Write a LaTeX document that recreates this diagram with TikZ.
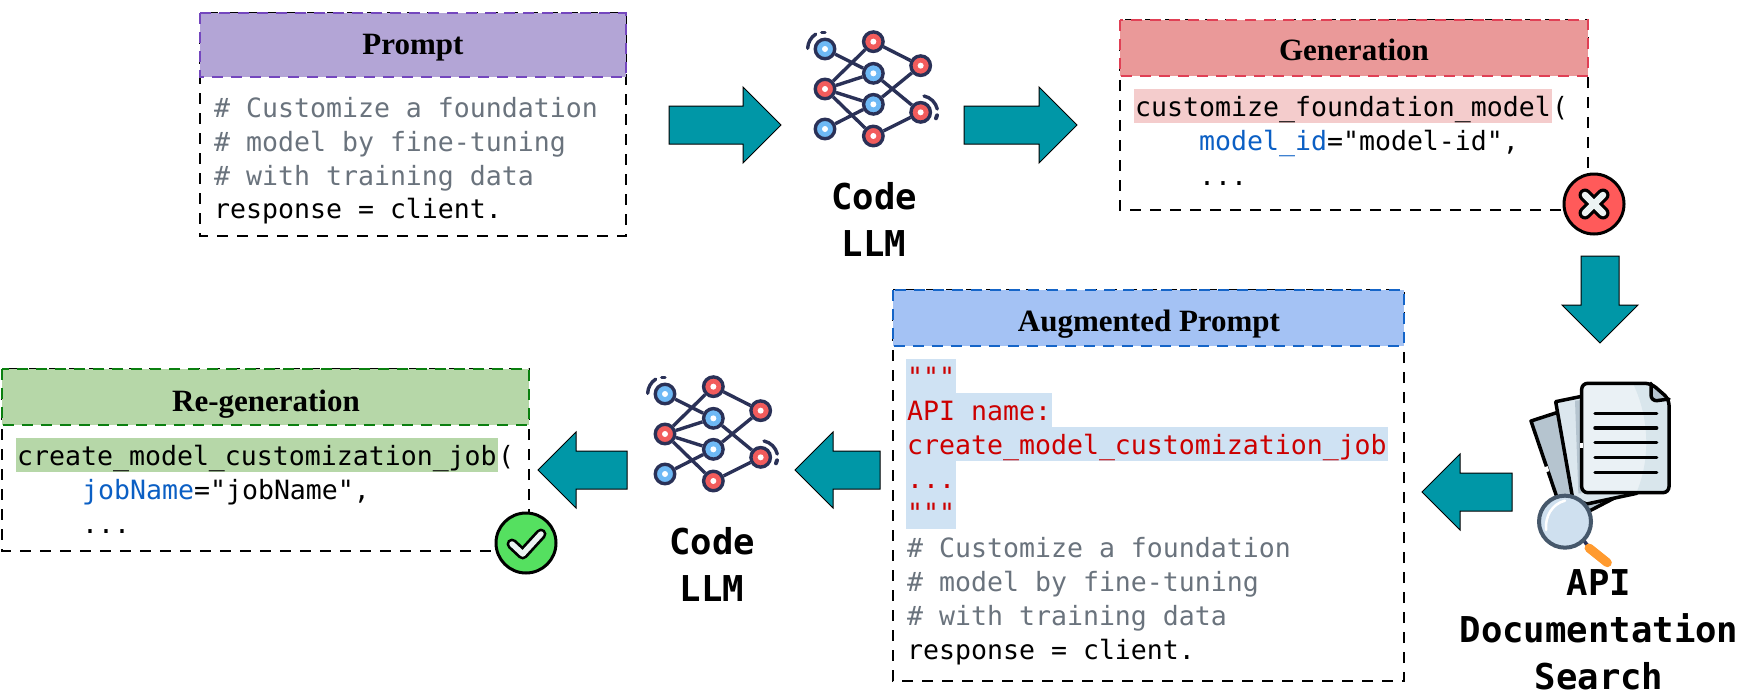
\documentclass[tikz,border=0pt]{standalone}
\usepackage{fontspec}
\newfontfamily\codefont{DejaVu Sans Mono}
\newfontfamily\titlefont{Liberation Serif}[BoldFont={Liberation Serif Bold}]
\usetikzlibrary{shapes.arrows}
\definecolor{arrowteal}{RGB}{0, 151, 167}
\definecolor{netnavy}{RGB}{42, 49, 87}
\definecolor{netblue}{RGB}{110, 185, 245}
\definecolor{netred}{RGB}{242, 92, 92}
\definecolor{commentgray}{RGB}{106, 115, 125}
\definecolor{argblue}{RGB}{11, 95, 196}
\definecolor{apired}{RGB}{204, 0, 0}
\definecolor{purplehead}{RGB}{179, 165, 214}
\definecolor{purpleline}{RGB}{116, 71, 190}
\definecolor{redhead}{RGB}{234, 153, 153}
\definecolor{redline}{RGB}{224, 64, 85}
\definecolor{redmark}{RGB}{244, 204, 204}
\definecolor{bluehead}{RGB}{164, 194, 244}
\definecolor{blueline}{RGB}{21, 101, 200}
\definecolor{bluemark}{RGB}{207, 226, 243}
\definecolor{greenhead}{RGB}{182, 215, 168}
\definecolor{greenline}{RGB}{11, 128, 16}
\definecolor{pagefront}{RGB}{234, 241, 245}
\definecolor{pageshade}{RGB}{217, 230, 236}
\definecolor{pagemid}{RGB}{220, 231, 238}
\definecolor{pageback}{RGB}{181, 196, 207}
\definecolor{lensblue}{RGB}{207, 224, 239}
\definecolor{lensrim}{RGB}{70, 88, 107}
\definecolor{handleorange}{RGB}{255, 154, 47}
\definecolor{badgered}{RGB}{255, 90, 90}
\definecolor{badgegreen}{RGB}{85, 224, 96}
\definecolor{marklight}{RGB}{236, 243, 243}

\begin{document}
\begin{tikzpicture}[
    x = 1pt, y = -1pt,
    d0/.style = {line width = 2, dash pattern = on 11 off 9},
    headbox/.style = {line width = 2.6, dash pattern = on 11 off 8},
    codeline/.style = {anchor = base west, inner sep = 0, font = \codefont\fontsize{26.55}{34}\selectfont},
    codemark/.style = {codeline, inner xsep = 1, text height = 27, text depth = 7},
    headtitle/.style = {anchor = base, inner sep = 0, font = \titlefont\bfseries\fontsize{31}{34}\selectfont},
    tagtext/.style = {align = center, inner sep = 0, font = \codefont\bfseries\fontsize{35.6}{47}\selectfont},
    blockarrow/.style = {single arrow, draw = black, fill = arrowteal, line width = 1, inner sep = 0, outer sep = 0,
        anchor = tip, minimum width = 75, single arrow head extend = 19},
    flatarrow/.style = {blockarrow, text height = 18.5, text depth = 18.5, text width = 0},
    tallarrow/.style = {blockarrow, text height = 0, text depth = 0, text width = 37},
    netedge/.style = {line width = 3.4, netnavy},
    bluenode/.style = {circle, draw = netnavy, fill = netblue, line width = 3.4, minimum size = 19.5, inner sep = 0},
    rednode/.style = {bluenode, fill = netred},
    pageedge/.style = {line width = 3.5, line join = round, line cap = round}
]
\useasboundingbox (0, 0) rectangle (1743, 699);

% prompt
\draw[d0] (200, 13) rectangle (626, 236);
\draw[headbox, draw = purpleline, fill = purplehead] (200, 13) rectangle (626, 77);
\node[headtitle] (promptTitle) at (413, 54) {Prompt};
\node[codeline, text = commentgray] (promptA) at (214, 117) {\# Customize a foundation};
\node[codeline, text = commentgray] (promptB) at (214, 151) {\# model by fine-tuning};
\node[codeline, text = commentgray] (promptC) at (214, 185) {\# with training data};
\node[codeline] (promptD) at (214, 218) {response = client.};

% generation
\draw[d0] (1120, 20) rectangle (1588, 210);
\draw[headbox, draw = redline, fill = redhead] (1120, 20) rectangle (1588, 76);
\node[headtitle] (genTitle) at (1354, 60) {Generation};
\node[codemark, fill = redmark] (genA) at (1134, 116) {customize\_foundation\_model};
\node[codeline] (genParen) at (genA.base east) {(};
\node[codeline] (genB) at (1199, 150) {{\color{argblue}model\_id}="model-id",};
\node[codeline] (genC) at (1199, 185) {...};

% augmented prompt
\draw[d0] (893, 290) rectangle (1404, 681);
\draw[headbox, draw = blueline, fill = bluehead] (893, 290) rectangle (1404, 346);
\node[headtitle] (augTitle) at (1149, 331) {Augmented Prompt};
\node[codemark, fill = bluemark, text = apired] (augA) at (906, 386) {"""};
\node[codemark, fill = bluemark, text = apired] (augB) at (906, 420) {API name:};
\node[codemark, fill = bluemark, text = apired] (augC) at (906, 454) {create\_model\_customization\_job};
\node[codemark, fill = bluemark, text = apired] (augD) at (906, 488) {...};
\node[codemark, fill = bluemark, text = apired] (augE) at (906, 522) {"""};
\node[codeline, text = commentgray] (augF) at (907, 557) {\# Customize a foundation};
\node[codeline, text = commentgray] (augG) at (907, 591) {\# model by fine-tuning};
\node[codeline, text = commentgray] (augH) at (907, 625) {\# with training data};
\node[codeline] (augI) at (907, 659) {response = client.};

% re-generation
\draw[d0] (2, 369) rectangle (529, 551);
\draw[headbox, draw = greenline, fill = greenhead] (2, 369) rectangle (529, 425);
\node[headtitle] (regenTitle) at (266, 411) {Re-generation};
\node[codemark, fill = greenhead] (regenA) at (16, 465) {create\_model\_customization\_job};
\node[codeline] (regenParen) at (regenA.base east) {(};
\node[codeline] (regenB) at (82, 499) {{\color{argblue}jobName}="jobName",};
\node[codeline] (regenC) at (82, 533) {...};

% block arrows
\node[flatarrow, minimum height = 112] (arrowA) at (781, 125) {};
\node[flatarrow, minimum height = 113] (arrowB) at (1077, 125) {};
\node[tallarrow, minimum height = 87, shape border rotate = 270] (arrowC) at (1600, 343) {};
\node[flatarrow, minimum height = 90, shape border rotate = 180] (arrowD) at (1422, 492) {};
\node[flatarrow, minimum height = 85, shape border rotate = 180] (arrowE) at (795, 470) {};
\node[flatarrow, minimum height = 89, shape border rotate = 180] (arrowF) at (538, 470) {};

% code llm
\foreach \ox/\oy/\id in {790/20/A, 630/365/B} {
\begin{scope}[shift = {(\ox, \oy)}, scale = 1/3]
\foreach \n/\px/\py/\kind in {a1/105/87/bluenode, a2/105/207/rednode, a3/105/327/bluenode,
    b1/250/65/rednode, b2/250/160/bluenode, b3/250/253/bluenode, b4/250/348/rednode,
    c1/392/137/rednode, c2/392/277/rednode} {
    \node[\kind] (\n\id) at (\px, \py) {};
    \fill[white] (\px, \py) circle (9);
}
\foreach \na/\nb in {a1/b2, a2/b1, a2/b2, a2/b3, a2/b4, a3/b3, b1/c1, b2/c2, b3/c1, b4/c2} {
    \draw[netedge] (\na\id) -- (\nb\id);
}
\draw[netedge, line cap = round] (53, 85) arc (182:237:53);
\draw[netedge, line cap = round] (95, 37) -- (105, 37);
\draw[netedge, line cap = round] (402, 228) arc (282:347:52);
\draw[netedge, line cap = round, line width = 4] (441, 286) -- (438, 295);
\end{scope}
}
\node[tagtext] (llmA) at (874, 219) {Code\\LLM};
\node[tagtext] (llmB) at (712, 564) {Code\\LLM};

% documents and magnifier
\begin{scope}[shift = {(1490, 360)}, scale = 1/3]
\draw[pageedge, fill = pageback] (123, 183) -- (200, 158) -- (400, 400) -- (300, 452) -- (200, 410) -- cycle;
\draw[pageedge, fill = pagemid] (197, 125) -- (280, 108) -- (440, 400) -- (290, 432) -- (248, 415) -- cycle;
\fill[pageback] (255, 122) -- (275, 120) -- (275, 400) -- (265, 400) -- cycle;
\fill[pagefront] (275, 70) -- (483, 70) -- (537, 117) -- (537, 398) -- (275, 398) -- cycle;
\fill[pageshade] (430, 72) .. controls (480, 180) and (480, 300) .. (440, 396) -- (535, 396) -- (535, 118) -- (483, 72) -- cycle;
\fill[pageback] (483, 75) -- (537, 117) -- (495, 122) -- (483, 110) -- cycle;
\draw[pageedge, rounded corners = 6] (275, 70) -- (483, 70) -- (537, 117) -- (537, 398) -- (275, 398) -- cycle;
\draw[pageedge] (483, 70) -- (483, 105) .. controls (483, 115) and (490, 122) .. (500, 122) -- (537, 117);
\draw[white, line width = 3.5] (275, 248) -- (275, 265);
\draw[white, line width = 3.5] (168, 320) -- (173, 335);
\foreach \ly in {160, 204, 248, 292, 337} {
    \draw[pageedge] (315, \ly) -- (500, \ly);
}
\draw[line width = 3.5, netnavy] (280, 540) -- (297, 562);
\draw[line width = 9, handleorange, line cap = round] (297, 564) -- (352, 608);
\draw[line width = 4, draw = lensrim, fill = lensblue] (225, 485) circle (78);
\draw[line width = 2.5, white, line cap = round] (168, 510) .. controls (165, 470) and (185, 432) .. (225, 422);
\end{scope}
\node[tagtext] (docTag) at (1599, 630) {API\\Documentation\\Search};

% badges
\draw[line width = 3, fill = badgered] (1594, 204) circle (30);
\draw[line width = 13, line cap = round] (1585, 195) -- (1603, 213) (1603, 195) -- (1585, 213);
\draw[line width = 6.5, line cap = round, marklight] (1585, 195) -- (1603, 213) (1603, 195) -- (1585, 213);
\draw[line width = 3, fill = badgegreen] (526, 543) circle (30);
\draw[line width = 11, line cap = round, line join = round] (512, 544) -- (522.7, 554) -- (541, 534);
\draw[line width = 5.5, line cap = round, line join = round, marklight] (512, 544) -- (522.7, 554) -- (541, 534);

\end{tikzpicture}
\end{document}
